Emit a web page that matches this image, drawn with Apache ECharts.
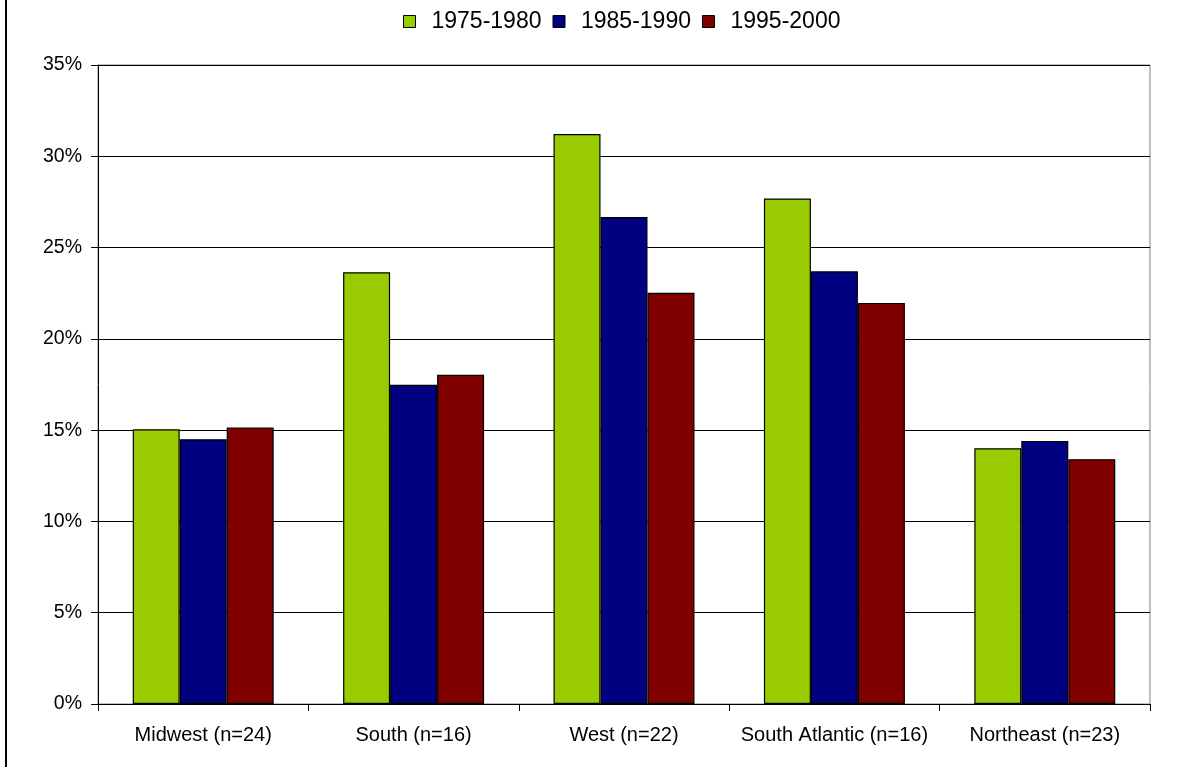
<!DOCTYPE html>
<html>
<head>
<meta charset="utf-8">
<style>
  html, body { margin: 0; padding: 0; background: #fff; }
  #chart { width: 1182px; height: 767px; }
</style>
<script src="https://cdn.jsdelivr.net/npm/echarts@6/dist/echarts.min.js"></script>
</head>
<body>
<div id="chart"></div>
<script>
// Regions and their share (%) per period
const regions = ['Midwest (n=24)', 'South (n=16)', 'West (n=22)', 'South Atlantic (n=16)', 'Northeast (n=23)'];
const period1975 = [15.05, 23.65, 31.22, 27.69, 14.01];
const period1985 = [14.5, 17.48, 26.67, 23.7, 14.41];
const period1995 = [15.14, 18.03, 22.52, 21.97, 13.41];
const seriesNames = ['1975-1980', '1985-1990', '1995-2000'];
const seriesColors = ['#99CC00', '#000080', '#800000'];
const yTicks = { min: 0, max: 35, interval: 5 };

const font = 'Liberation Sans, Arial, sans-serif';
const chart = echarts.init(document.getElementById('chart'), null, { renderer: 'canvas' });

function barSeries(name, data, color) {
  return {
    name: name,
    type: 'bar',
    data: data,
    barGap: '0%',
    barCategoryGap: '33%',
    itemStyle: { color: color, borderColor: '#000', borderWidth: 1.2 }
  };
}

chart.setOption({
  animation: false,
  backgroundColor: '#fff',
  textStyle: { fontFamily: font },
  legend: {
    left: 398,
    top: 5,
    itemWidth: 12,
    itemHeight: 12,
    itemGap: 11,
    icon: 'rect',
    itemStyle: { borderColor: '#000', borderWidth: 1 },
    textStyle: { fontSize: 23, color: '#000', fontFamily: font, padding: [0, 0, 0, 11] },
    data: seriesNames
  },
  grid: {
    left: 98,
    top: 65,
    width: 1052,
    height: 639,
    show: true,
    borderColor: '#808080',
    borderWidth: 1,
    backgroundColor: 'transparent',
    containLabel: false
  },
  xAxis: {
    type: 'category',
    data: regions,
    boundaryGap: true,
    axisLine: { lineStyle: { color: '#000', width: 1 } },
    axisTick: { show: true, length: 7, lineStyle: { color: '#000' } },
    axisLabel: { fontSize: 20, color: '#000', margin: 21, fontFamily: font, interval: 0 },
    splitLine: { show: false }
  },
  yAxis: {
    type: 'value',
    min: yTicks.min,
    max: yTicks.max,
    interval: yTicks.interval,
    axisLine: { show: true, lineStyle: { color: '#000', width: 1 } },
    axisTick: { show: true, length: 7, lineStyle: { color: '#000' } },
    axisLabel: { fontSize: 19.5, color: '#000', margin: 16, fontFamily: font, formatter: '{value}%' },
    splitLine: { show: true, lineStyle: { color: '#000', width: 1 } }
  },
  series: [
    barSeries(seriesNames[0], period1975, seriesColors[0]),
    barSeries(seriesNames[1], period1985, seriesColors[1]),
    barSeries(seriesNames[2], period1995, seriesColors[2])
  ],
  graphic: [{
    type: 'line',
    shape: { x1: 6, y1: 0, x2: 6, y2: 767 },
    style: { stroke: '#000', lineWidth: 2 },
    silent: true
  }]
});
</script>
</body>
</html>
